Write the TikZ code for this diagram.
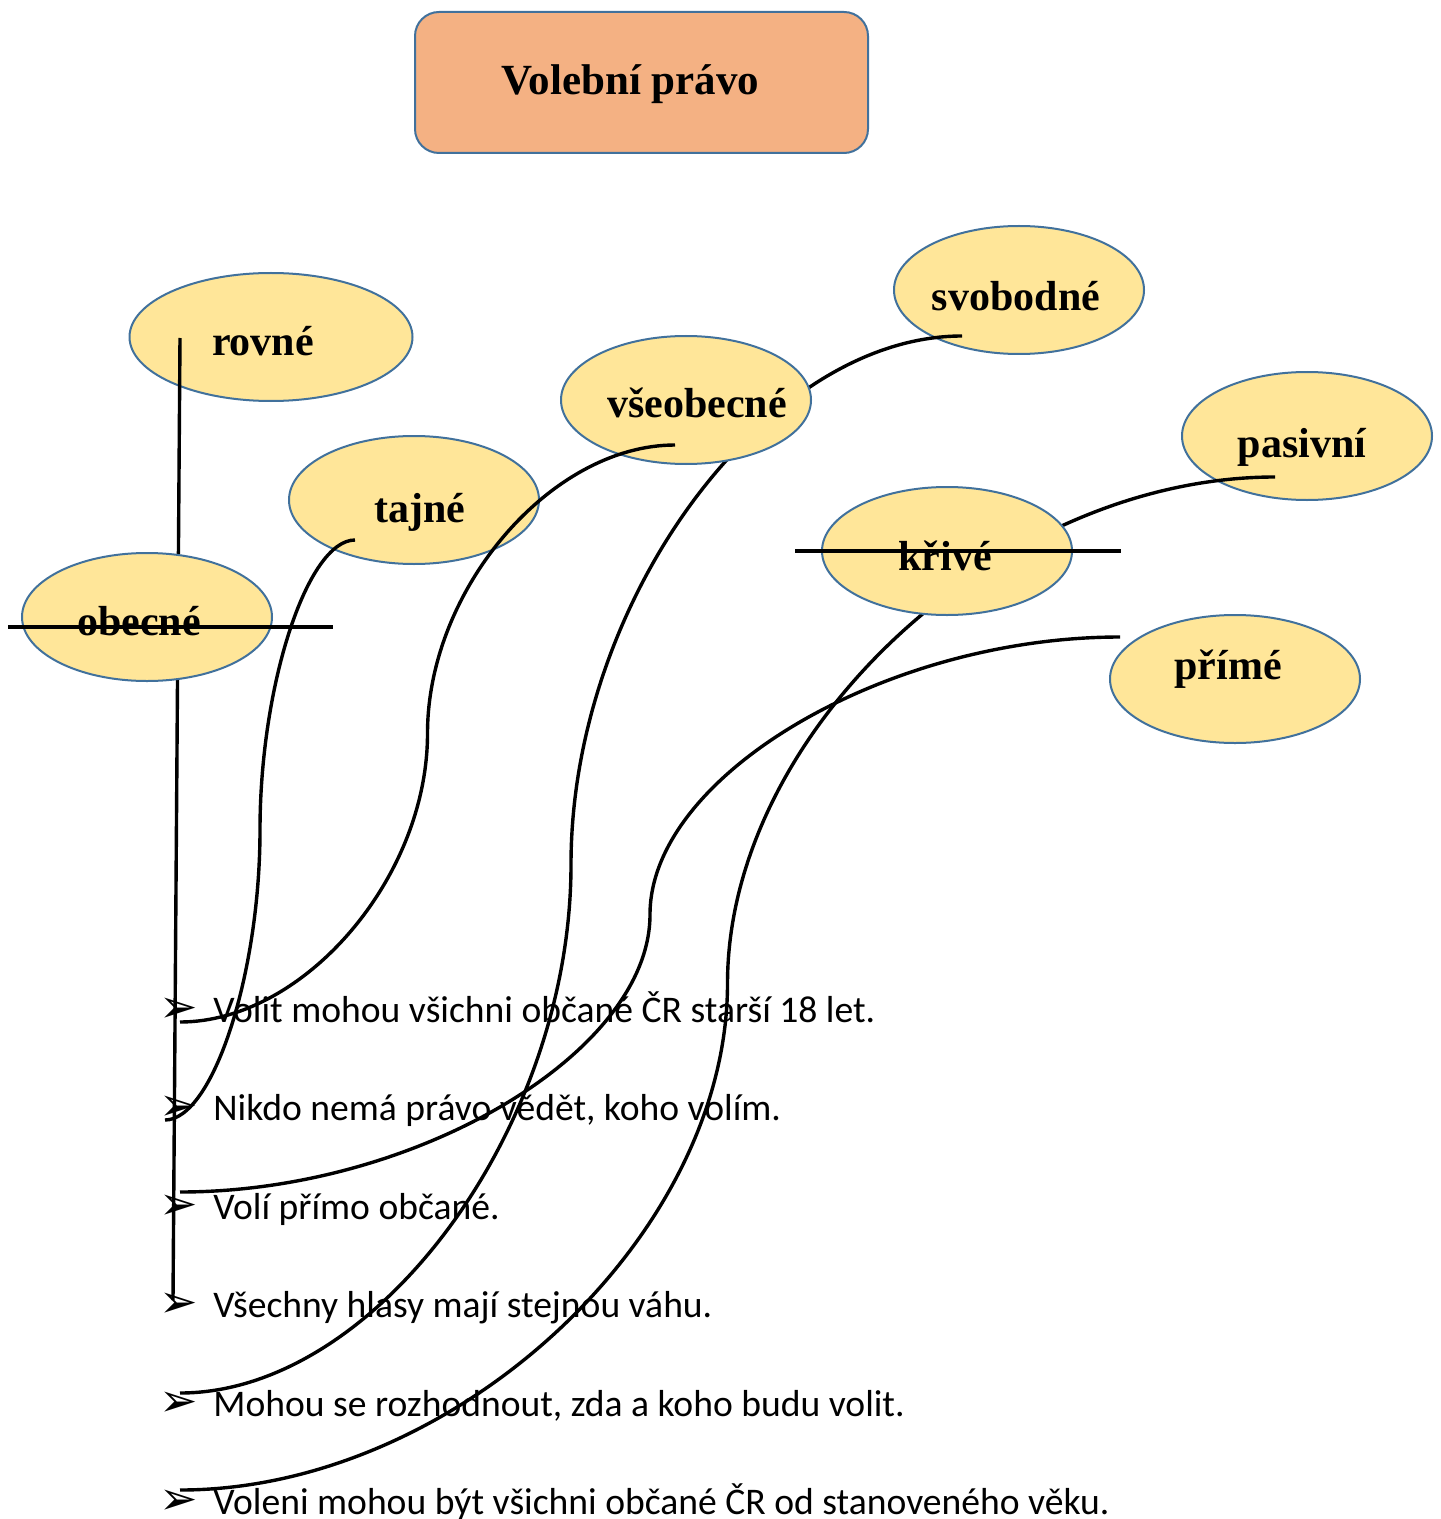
\documentclass[tikz,border=0pt]{standalone}
\usepackage{fontspec}
\setmainfont{Liberation Serif}
\newfontfamily\calibri{Carlito}
\newfontfamily\dejavu{DejaVu Sans}
\usepackage{tikz}
\usetikzlibrary{calc,shapes.geometric}
\definecolor{ovalfill}{HTML}{FFE699}
\definecolor{ovalline}{HTML}{41719C}
\definecolor{titlefill}{HTML}{F4B183}

\begin{document}
\begin{tikzpicture}[x=0.5pt,y=-0.5pt]
                      \tikzstyle{oval}=[ellipse,draw=ovalline,line width=1pt,fill=ovalfill,inner sep=0pt,minimum width=125pt,minimum height=64pt]
                      \tikzstyle{word}=[inner sep=0pt,font=\fontsize{21}{21}\selectfont\bfseries]
                      \tikzstyle{link}=[line width=1.7pt]
                      \tikzstyle{strike}=[line width=2.4pt]
                      \tikzstyle{bul}=[inner sep=0pt,font=\dejavu\fontsize{23}{23}\selectfont]
                      \tikzstyle{item}=[anchor=base west,inner sep=0pt,font=\calibri\fontsize{18.8}{18.8}\selectfont]
                      \useasboundingbox (0,0) rectangle (1440,1519);
                      % title
                      \node[rectangle,rounded corners=12pt,draw=ovalline,line width=1pt,fill=titlefill,minimum width=226.5pt,minimum height=70.5pt] (title) at (641.5,82.5) {};
                      \node[word,font=\fontsize{21.5}{21.5}\selectfont\bfseries] (title-t) at ($(title.center)+(-11,2)$) {Volební právo};
                      % ovals in the back
                      \node[oval,minimum width=141.5pt] (rovne) at (271,337) {};
                      \node[word] (rovne-t) at ($(rovne.center)+(-8,4)$) {rovné};
                      \node[oval] (tajne) at (414,500) {};
                      \node[word] (tajne-t) at ($(tajne.center)+(6,12)$) {tajné};
                      \node[oval] (svobodne) at (1019,290) {};
                      \node[word] (svobodne-t) at ($(svobodne.center)+(-3,6)$) {svobodné};
                      \node[oval] (pasivni) at (1307,436) {};
                      \node[word] (pasivni-t) at ($(pasivni.center)+(-5,11)$) {pasivní};
                      \node[oval] (prime) at (1235,679) {};
                      \node[word] (prime-t) at ($(prime.center)+(-7,-10)$) {přímé};
                      % bullets
                      \node[bul] (b1) at (179,1010) {➢};
                      \node[bul] (b2) at (179,1108.5) {➢};
                      \node[bul] (b3) at (179,1207) {➢};
                      \node[bul] (b4) at (179,1305.5) {➢};
                      \node[bul] (b5) at (179,1404) {➢};
                      \node[bul] (b6) at (179,1502.5) {➢};
                      \node[item] (t1) at (213,1022) {Volit mohou všichni občané ČR starší 18 let.};
                      \node[item] (t2) at (213,1120.5) {Nikdo nemá právo vědět, koho volím.};
                      \node[item] (t3) at (213,1219) {Volí přímo občané.};
                      \node[item] (t4) at (213,1317.5) {Všechny hlasy mají stejnou váhu.};
                      \node[item] (t5) at (213,1416) {Mohou se rozhodnout, zda a koho budu volit.};
                      \node[item] (t6) at (213,1514.5) {Voleni mohou být všichni občané ČR od stanoveného věku.};
                      % ends of the connectors
                      \coordinate (vse-e) at ($(b1.center)+(1,12)$);
                      \coordinate (taj-e) at ($(b2.center)+(-14,11.5)$);
                      \coordinate (pri-e) at ($(b3.center)+(1,-15)$);
                      \coordinate (rov-e) at ($(b4.center)+(-6,-5.5)$);
                      \coordinate (svo-e) at ($(b5.center)+(1,-11)$);
                      \coordinate (pas-e) at ($(b6.center)+(1,-12.5)$);
                      \coordinate (rov-s) at ($(rovne.center)+(-91,1)$);
                      \coordinate (taj-s) at ($(tajne.center)+(-59,40)$);
                      \coordinate (svo-s) at ($(svobodne.center)+(-57,46)$);
                      \coordinate (pas-s) at ($(pasivni.center)+(-32,41)$);
                      \coordinate (pri-s) at ($(prime.center)+(-115,-42)$);
                      \draw[link] (svo-s) .. controls (766.5,336) and (571,600) .. (571,864.5) .. controls (571,1129) and (375.5,1393) .. (svo-e);
                      \draw[link] (pas-s) .. controls (1001,477) and (727.5,730) .. (727.5,983.5) .. controls (727.5,1237) and (454,1490) .. (pas-e);
                      \draw[link] (rov-s) -- (rov-e);
                      % ovals in front
                      \node[oval] (obecne) at (147,617) {};
                      \node[word] (obecne-t) at ($(obecne.center)+(-8,4)$) {obecné};
                      \node[oval] (vseobecne) at (686,400) {};
                      \node[word] (vseobecne-t) at ($(vseobecne.center)+(11,3)$) {všeobecné};
                      \node[oval] (krive) at (947,551) {};
                      \node[word] (krive-t) at ($(krive.center)+(-2,5)$) {křivé};
                      \coordinate (vse-s) at ($(vseobecne.center)+(-11,45)$);
                      \draw[link] (vse-s) .. controls (551.25,445) and (427.5,589) .. (427.5,733.5) .. controls (427.5,878) and (303.75,1022) .. (vse-e);
                      \draw[link] (taj-s) .. controls (307.5,540) and (260,685) .. (260,830) .. controls (260,975) and (212.5,1120) .. (taj-e);
                      \draw[link] (pri-s) .. controls (885,637) and (650,776) .. (650,914.5) .. controls (650,1053) and (415,1192) .. (pri-e);
                      % crossed out
                      \draw[strike] ($(obecne.center)+(-139,10)$) -- ($(obecne.center)+(186,10)$);
                      \draw[strike] ($(krive.center)+(-152,0)$) -- ($(krive.center)+(174,0)$);
                  \end{tikzpicture}
\end{document}
